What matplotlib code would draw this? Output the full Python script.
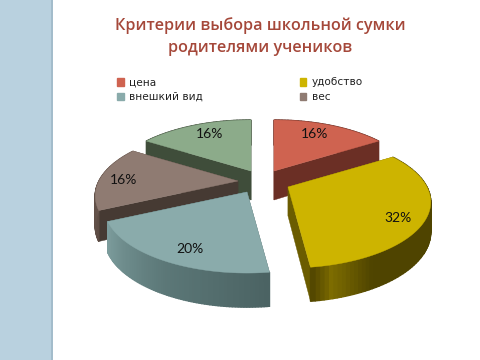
import numpy as np
import matplotlib
matplotlib.use('Agg')
import matplotlib.pyplot as plt
from matplotlib.colors import LinearSegmentedColormap
from matplotlib.patches import Patch, Rectangle

title = 'Критерии выбора школьной сумки\nродителями учеников'
categories = ['цена', 'удобство', 'внешкий вид', 'вес', 'другое']
values = [16, 32, 20, 16, 16]
legend_order = [0, 2, 1, 3]

# layout in pixels, the pie is exploded so every slice has its own apex
apex = [(274, 171), (288, 187), (247, 192), (238, 181), (251, 171)]
label_pos = [(315, 134), (398, 218), (190, 249), (124, 180), (210, 134)]
draw_order = [4, 0, 3, 1, 2]
R = 139
V = 62.6
K = 0.2275
DEPTH = 29

face_colors = ['#cf6350', '#cdb400', '#8aabab', '#8f7b72', '#8cab8a']
side_colors = ['#6b2f25', '#6b5c00', '#4b6363', '#463a33', '#3f4d3a']
rim_colors = [[(0, '#6b2f25'), (1, '#6b2f25')],
              [(0, '#4f4400'), (0.82, '#4f4400'), (0.95, '#7d6c00'), (1, '#544800')],
              [(0, '#4b6363'), (0.5, '#5c7878'), (1, '#7c9c9c')],
              [(0, '#5d4c44'), (1, '#705e55')],
              [(0, '#3f4d3a'), (1, '#3f4d3a')]]


def project(a, theta, f=1.0):
    X = f * np.sin(theta)
    Y = f * np.cos(theta)
    s = 1 / (1 + K * Y)
    return a[0] + R * X * s, a[1] - V * Y * s


def drop(theta, f=1.0):
    return DEPTH / (1 + 0.15 * f * np.cos(theta))


def draw_slice(ax, a, t0, t1, face, side, rim):
    # radial walls first, the face goes over whatever is hidden
    f = np.array([0, 1.0])
    for t in (t0, t1):
        x, y = project(a, t, f)
        d = drop(t, f)
        ax.fill(np.r_[x, x[::-1]], np.r_[y, (y + d)[::-1]], color=side, lw=0.3)

    cmap = LinearSegmentedColormap.from_list('rim', rim)
    th = np.linspace(t0, t1, 80)
    x, y = project(a, th)
    d = drop(th)
    for i in range(len(th) - 1):
        ax.fill([x[i], x[i + 1], x[i + 1], x[i]],
                [y[i], y[i + 1], y[i + 1] + d[i + 1], y[i] + d[i]],
                color=cmap(i / (len(th) - 2)), lw=1.0)

    ax.fill(np.r_[a[0], x], np.r_[a[1], y], color=face, lw=0.3)


fig = plt.figure(figsize=(4.8, 3.6), dpi=100)
ax = fig.add_axes([0, 0, 1, 1])
ax.set_xlim(0, 480)
ax.set_ylim(360, 0)
ax.axis('off')

# left band of the slide
ax.add_patch(Rectangle((0, 0), 52, 360, color='#b9d1df', lw=0))
ax.add_patch(Rectangle((51, 0), 2, 360, color='#a3bccb', lw=0))

ax.text(260, 36.5, title, ha='center', va='center', fontsize=11.6, color='#a5483a',
        family='Open Sans', weight='semibold', linespacing=1.45)

edges = np.radians(np.r_[0, np.cumsum(values)] * 3.6)
for i in draw_order:
    draw_slice(ax, apex[i], edges[i], edges[i + 1], face_colors[i], side_colors[i], rim_colors[i])

for i, v in enumerate(values):
    ax.text(label_pos[i][0], label_pos[i][1], f'{v}%', ha='center', va='center',
            fontsize=10, color='#111111', family='Lato')

handles = [Patch(color=face_colors[i], label=categories[i]) for i in legend_order]
ax.legend(handles=handles, ncol=2, loc='upper left', bbox_to_anchor=(0.244, 0.785),
          frameon=False, fontsize=7.6, handlelength=0.62, handleheight=0.75,
          handletextpad=0.5, columnspacing=9.2, labelspacing=0.45,
          borderpad=0, borderaxespad=0, labelcolor='#222222')

fig.savefig('out.png', dpi=100)
